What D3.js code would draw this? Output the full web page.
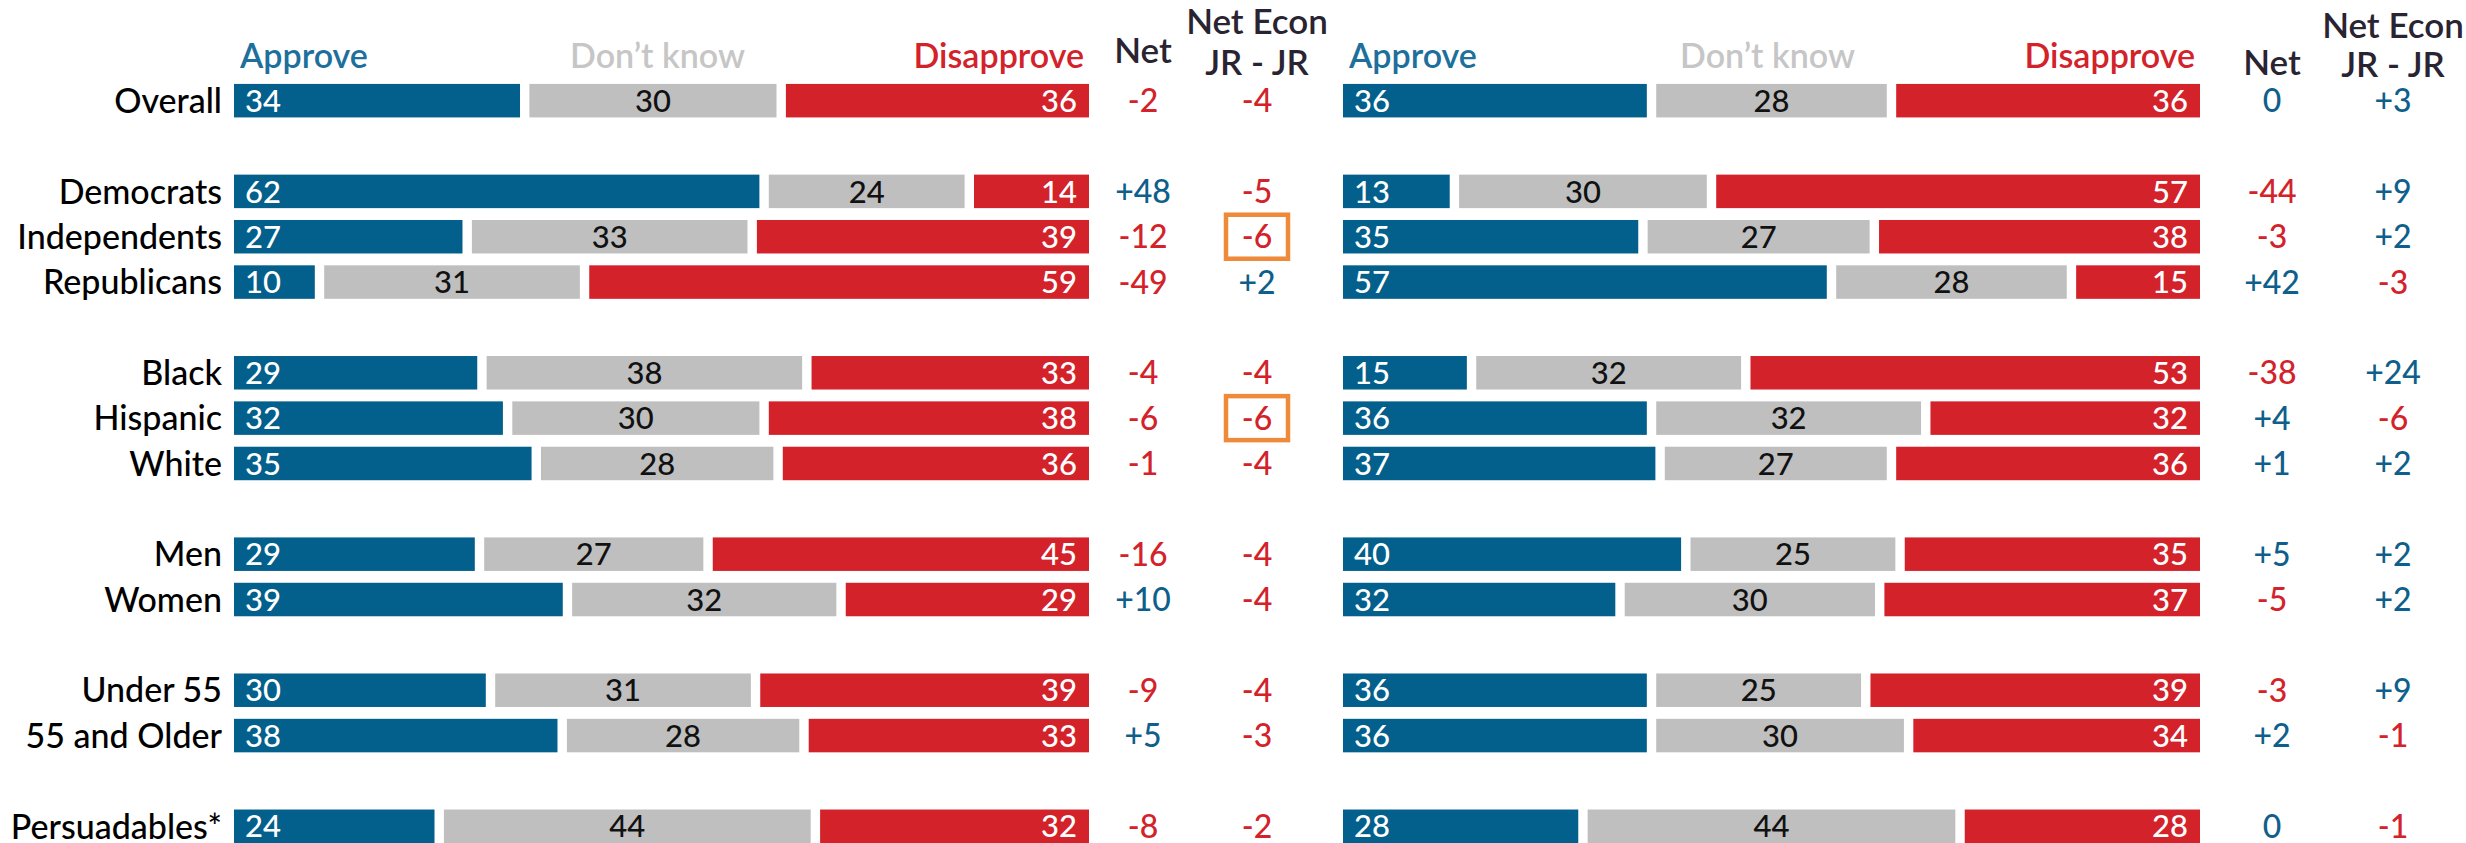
<!DOCTYPE html>
<html>
<head>
<meta charset="utf-8">
<script src="https://cdn.jsdelivr.net/npm/d3@7"></script>
<style>
  html, body { margin: 0; padding: 0; background: #fff; overflow: hidden; }
  svg { display: block; font-family: Lato, "Open Sans", sans-serif; }
</style>
</head>
<body>
<svg id="chart" width="2466" height="843"></svg>
<script>
// Respondent groups, in display order; a blank row separates each group
const groups = [
  ["Overall"],
  ["Democrats", "Independents", "Republicans"],
  ["Black", "Hispanic", "White"],
  ["Men", "Women"],
  ["Under 55", "55 and Older"],
  ["Persuadables*"]
];
const categories = groups.flat();
const segmentNames = ["Approve", "Don\u2019t know", "Disapprove"];

// Left panel
const leftApprove    = [34, 62, 27, 10, 29, 32, 35, 29, 39, 30, 38, 24];
const leftDontKnow   = [30, 24, 33, 31, 38, 30, 28, 27, 32, 31, 28, 44];
const leftDisapprove = [36, 14, 39, 59, 33, 38, 36, 45, 29, 39, 33, 32];
const leftNetEcon    = [-4, -5, -6, 2, -4, -6, -4, -4, -4, -4, -3, -2];
const leftHighlighted = ["Independents", "Hispanic"];

// Right panel
const rightApprove    = [36, 13, 35, 57, 15, 36, 37, 40, 32, 36, 36, 28];
const rightDontKnow   = [28, 30, 27, 28, 32, 32, 27, 25, 30, 25, 30, 44];
const rightDisapprove = [36, 57, 38, 15, 53, 32, 36, 35, 37, 39, 34, 28];
const rightNetEcon    = [3, 9, 2, -3, 24, -6, 2, 2, 2, 9, -1, -1];
const rightHighlighted = [];

const colors = {
  approve: "#035f8b",
  dontKnow: "#bfbfbf",
  disapprove: "#d3222a",
  approveHead: "#1d6f9c",
  dontKnowHead: "#c6c6c6",
  dark: "#2a2331",
  positive: "#0f5f8c",
  negative: "#d3222a",
  highlight: "#ee8a3a"
};

const svg = d3.select("#chart");

// Row slots: categories with a spacer between groups
const slots = [];
groups.forEach((g, i) => {
  if (i > 0) slots.push("__gap" + i);
  slots.push(...g);
});
const pitch = 45.35;
const y = d3.scaleBand().domain(slots).range([78, 78 + slots.length * pitch]).padding(0);
const barH = 33.5;
const rowMid = c => y(c) + y.bandwidth() / 2;

const fmtNet = v => (v > 0 ? "+" + v : String(v));
const netColor = v => (v < 0 ? colors.negative : colors.positive);

// Category labels
svg.append("g")
  .selectAll("text")
  .data(categories)
  .join("text")
  .attr("x", 222)
  .attr("y", d => rowMid(d))
  .attr("dy", "0.36em")
  .attr("text-anchor", "end")
  .attr("font-size", 34)
  .attr("font-weight", 500)
  .attr("fill", "#000")
  .text(d => d);

function drawPanel(cfg) {
  const g = svg.append("g");
  const rows = categories.map((c, i) => {
    const vals = [cfg.approve[i], cfg.dontKnow[i], cfg.disapprove[i]];
    return { cat: c, vals, total: d3.sum(vals), net: cfg.approve[i] - cfg.disapprove[i], econ: cfg.netEcon[i] };
  });
  const gap = 9.4;
  const fills = [colors.approve, colors.dontKnow, colors.disapprove];

  // Column headers
  const headY = 68, headSize = 34;
  g.append("text").attr("x", cfg.x0 + 6).attr("y", headY)
    .attr("font-size", headSize).attr("font-weight", 600).attr("fill", colors.approveHead)
    .text(segmentNames[0]);
  g.append("text").attr("x", (cfg.x0 + cfg.x1) / 2 - 4).attr("y", headY)
    .attr("text-anchor", "middle")
    .attr("font-size", headSize).attr("font-weight", 600).attr("fill", colors.dontKnowHead)
    .text(segmentNames[1]);
  g.append("text").attr("x", cfg.x1 - 5).attr("y", headY)
    .attr("text-anchor", "end")
    .attr("font-size", headSize).attr("font-weight", 600).attr("fill", colors.disapprove)
    .text(segmentNames[2]);
  g.append("text").attr("x", cfg.netX).attr("y", cfg.netHeadY)
    .attr("text-anchor", "middle")
    .attr("font-size", 35).attr("font-weight", 600).attr("fill", colors.dark)
    .text("Net");
  const econHead = g.append("text").attr("text-anchor", "middle")
    .attr("font-size", 35).attr("font-weight", 600).attr("fill", colors.dark);
  econHead.append("tspan").attr("x", cfg.econX).attr("y", cfg.econHeadY[0]).text("Net Econ");
  econHead.append("tspan").attr("x", cfg.econX).attr("y", cfg.econHeadY[1]).text("JR - JR");

  rows.forEach(r => {
    const x = d3.scaleLinear().domain([0, r.total]).range([cfg.x0, cfg.x1]);
    const cum = d3.cumsum(r.vals);
    const segs = r.vals.map((v, i) => {
      const s = i === 0 ? 0 : cum[i - 1];
      const e = cum[i];
      const left = x(s) + (i > 0 ? gap / 2 : 0);
      const right = x(e) - (i < 2 ? gap / 2 : 0);
      return { i, v, left, right };
    });
    const row = g.append("g");
    const top = rowMid(r.cat) - barH / 2;
    row.selectAll("rect")
      .data(segs)
      .join("rect")
      .attr("x", d => d.left)
      .attr("y", top)
      .attr("width", d => d.right - d.left)
      .attr("height", barH)
      .attr("fill", d => fills[d.i]);

    row.selectAll("text.val")
      .data(segs)
      .join("text")
      .attr("class", "val")
      .attr("x", d => d.i === 0 ? d.left + 11 : d.i === 1 ? (d.left + d.right) / 2 : d.right - 12)
      .attr("y", rowMid(r.cat))
      .attr("dy", "0.36em")
      .attr("text-anchor", d => d.i === 0 ? "start" : d.i === 1 ? "middle" : "end")
      .attr("font-size", 31)
      .attr("font-weight", 500)
      .attr("fill", d => d.i === 1 ? "#111" : "#fff")
      .text(d => d.v);

    row.append("text")
      .attr("x", cfg.netX).attr("y", rowMid(r.cat)).attr("dy", "0.36em")
      .attr("text-anchor", "middle").attr("font-size", 32).attr("font-weight", 500)
      .attr("fill", netColor(r.net))
      .text(fmtNet(r.net));

    row.append("text")
      .attr("x", cfg.econX).attr("y", rowMid(r.cat)).attr("dy", "0.36em")
      .attr("text-anchor", "middle").attr("font-size", 32).attr("font-weight", 500)
      .attr("fill", netColor(r.econ))
      .text(fmtNet(r.econ));

    if (cfg.highlighted.includes(r.cat)) {
      row.append("rect")
        .attr("x", cfg.econX - 31).attr("y", rowMid(r.cat) - 22)
        .attr("width", 62).attr("height", 44)
        .attr("fill", "none").attr("stroke", colors.highlight).attr("stroke-width", 4.5);
    }
  });
}

drawPanel({
  approve: leftApprove, dontKnow: leftDontKnow, disapprove: leftDisapprove,
  netEcon: leftNetEcon, highlighted: leftHighlighted,
  x0: 234, x1: 1089, netX: 1143, econX: 1257,
  netHeadY: 63, econHeadY: [34, 75]
});
drawPanel({
  approve: rightApprove, dontKnow: rightDontKnow, disapprove: rightDisapprove,
  netEcon: rightNetEcon, highlighted: rightHighlighted,
  x0: 1343, x1: 2200, netX: 2272, econX: 2393,
  netHeadY: 75, econHeadY: [38, 77]
});
</script>
</body>
</html>
